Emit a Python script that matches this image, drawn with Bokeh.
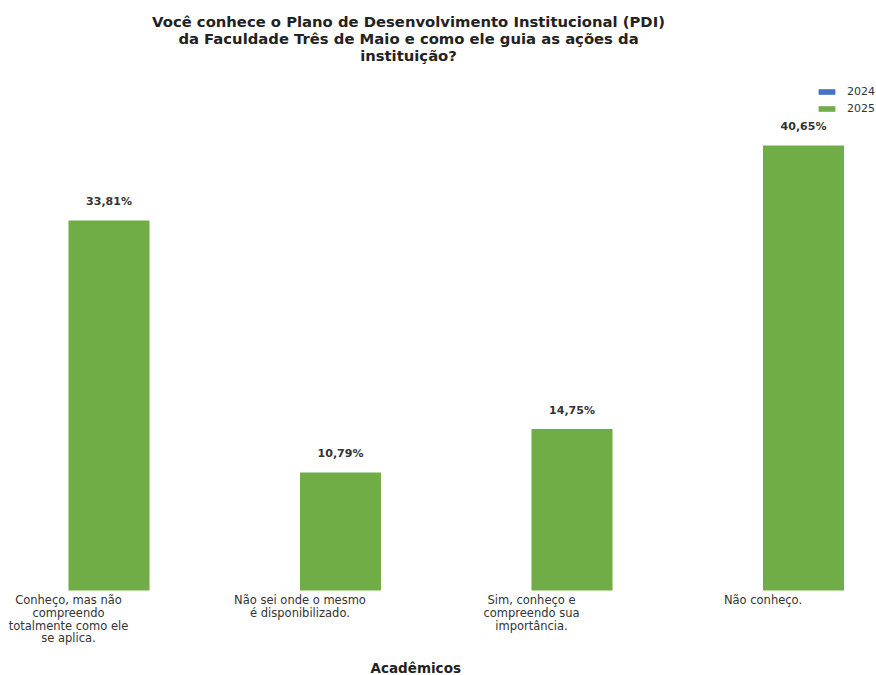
from bokeh.plotting import figure
from bokeh.models import ColumnDataSource, Range1d, Legend, LegendItem, Label
from bokeh.embed import file_html
from bokeh.resources import INLINE
from bokeh.core.properties import value

# ---- data ----
categories = [
    "Conheço, mas não\ncompreendo\ntotalmente como ele\nse aplica.",
    "Não sei onde o mesmo\né disponibilizado.",
    "Sim, conheço e\ncompreendo sua\nimportância.",
    "Não conheço.",
]
values_2024 = [0.0, 0.0, 0.0, 0.0]
values_2025 = [33.81, 10.79, 14.75, 40.65]
labels_2025 = ["33,81%", "10,79%", "14,75%", "40,65%"]
series_names = ["2024", "2025"]
title_lines = [
    "Você conhece o Plano de Desenvolvimento Institucional (PDI)",
    "da Faculdade Três de Maio e como ele guia as ações da",
    "instituição?",
]
x_title = "Acadêmicos"

# ---- layout ----
W, H = 876, 675
FONT = "DejaVu Sans"
BLUE = "#4472C4"
GREEN = "#70AD47"
bar_w = 0.35

idx = list(range(len(categories)))
x24 = [i - bar_w / 2 for i in idx]
x25 = [i + bar_w / 2 for i in idx]

p = figure(width=W, height=H, output_backend="svg", toolbar_location=None,
           min_border=0, x_range=Range1d(-0.2937, 3.4903),
           y_range=Range1d(-7.765, 53.897), title=None)
p.axis.visible = False
p.grid.visible = False
p.outline_line_color = None
p.background_fill_color = "white"
p.border_fill_color = "white"

src24 = ColumnDataSource(dict(x=x24, top=values_2024))
src25 = ColumnDataSource(dict(x=x25, top=values_2025, lab=labels_2025))
r24 = p.vbar(x="x", top="top", width=bar_w, bottom=0, source=src24,
             fill_color=BLUE, line_color=None)
r25 = p.vbar(x="x", top="top", width=bar_w, bottom=0, source=src25,
             fill_color=GREEN, line_color=None)

# value labels
p.text(x="x", y="top", text="lab", source=src25, text_font=value(FONT),
       text_font_size="11px", text_font_style="bold", text_color="#333333",
       text_align="center", text_baseline="middle", y_offset=-19)

# category labels
csrc = ColumnDataSource(dict(x=idx, y=[0] * len(idx), t=categories))
p.text(x="x", y="y", text="t", source=csrc, text_font=value(FONT),
       text_font_size="11.5px", text_color="#333333", text_align="center",
       text_baseline="top", y_offset=3, text_line_height=0.9)

# x axis title
p.text(x=[1.5], y=[0], text=[x_title], text_font=value(FONT),
       text_font_size="13.5px", text_font_style="bold", text_color="#222222",
       text_align="center", text_baseline="middle", y_offset=78)

# chart title
for k, line in enumerate(title_lines):
    p.add_layout(Label(x=408, y=H - 21 - 17 * k, x_units="screen", y_units="screen",
                       text=line, text_font=FONT, text_font_size="14.8px",
                       text_font_style="bold", text_color="#222222",
                       text_align="center", text_baseline="middle"))

legend = Legend(items=[LegendItem(label=series_names[0], renderers=[r24]),
                       LegendItem(label=series_names[1], renderers=[r25])],
                location=(816, H - 85 - 30), orientation="vertical",
                glyph_width=21, glyph_height=7, label_height=10, spacing=4,
                label_standoff=10, padding=0, margin=0,
                border_line_alpha=0, background_fill_alpha=0,
                label_text_font=FONT, label_text_font_size="11px",
                label_text_color="#333333")
p.add_layout(legend)

open("out.html", "w").write(file_html(p, INLINE))
